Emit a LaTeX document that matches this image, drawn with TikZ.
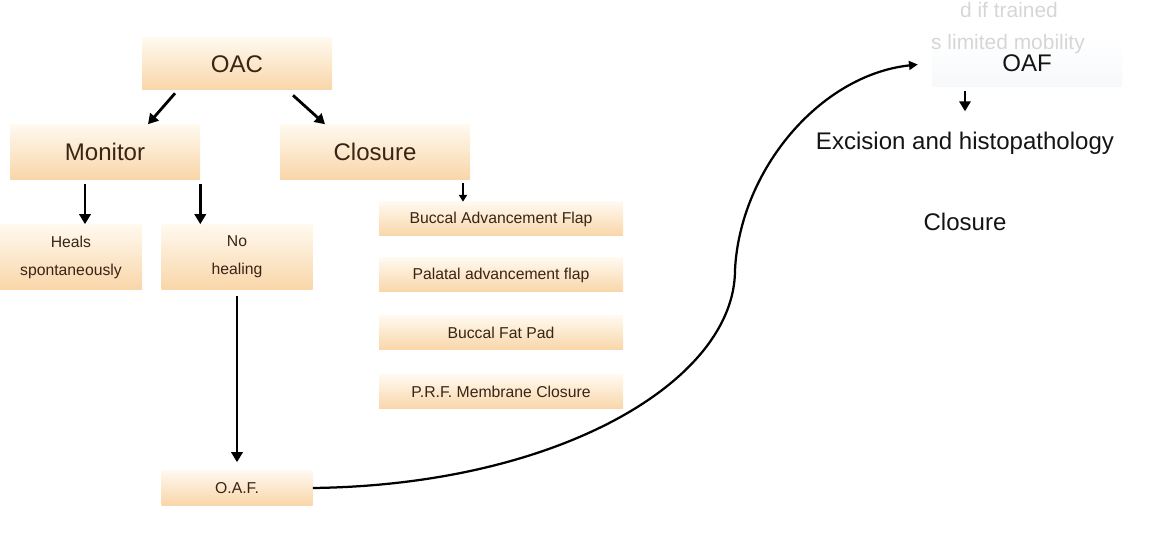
\documentclass[tikz,border=0pt]{standalone}
\usepackage{fontspec}
\setmainfont{Liberation Sans}
\usetikzlibrary{arrows.meta,positioning}
\definecolor{boxtop}{HTML}{FFF9EF}
\definecolor{boxbot}{HTML}{F9D6A9}
\definecolor{boxtext}{HTML}{3A2414}
\definecolor{haze}{HTML}{EEF2F7}

\begin{document}
\begin{tikzpicture}[
        >={Triangle[length=2.5mm, width=2.8mm]},
        every node/.append style={align=center},
        bigbox/.style={rectangle, top color=boxtop, bottom color=boxbot, text=boxtext,
            font=\fontsize{17.1}{20}\selectfont, minimum width=4.75cm, inner sep=0pt},
        smallbox/.style={rectangle, top color=boxtop, bottom color=boxbot, text=boxtext,
            font=\fontsize{11.2}{19.9}\selectfont, inner sep=0pt},
        flapbox/.style={smallbox, minimum width=6.1cm, minimum height=0.85cm},
        plain/.style={text=black!92, font=\fontsize{17.1}{20}\selectfont, inner sep=0pt},
        ghost/.style={text=black!16, font=\fontsize{14.9}{18}\selectfont, inner sep=0pt},
        arr/.style={->, line width=2pt}
    ]
        \useasboundingbox (0,0) rectangle (29.2,-13.55);

        \node[bigbox, minimum height=1.3cm]   (oac)     at (5.925,-1.6) {OAC};
        \node[bigbox, minimum height=1.375cm] (monitor) at (2.625,-3.8) {Monitor};
        \node[bigbox, minimum height=1.375cm] (closure) at (9.375,-3.8) {Closure};

        \node[smallbox, minimum width=3.55cm, minimum height=1.625cm]  (heals)     at (1.775,-6.425) {Heals\\spontaneously};
        \node[smallbox, minimum width=3.775cm, minimum height=1.625cm] (nohealing) at (5.925,-6.425) {No\\healing};
        \node[smallbox, minimum width=3.775cm, minimum height=0.875cm] (oaf)       at (5.925,-12.2) {O.A.F.};

        \node[flapbox] (flap1) at (12.525,-5.475) {Buccal Advancement Flap};
        \node[flapbox] (flap2) at (12.525,-6.875) {Palatal advancement flap};
        \node[flapbox] (flap3) at (12.525,-8.325) {Buccal Fat Pad};
        \node[flapbox] (flap4) at (12.525,-9.8)   {P.R.F. Membrane Closure};

        % right hand side
        \node[plain, minimum width=4.75cm, minimum height=1.2cm, top color=white, bottom color=haze,
            fill opacity=0.5, text opacity=1] (oafr) at (25.675,-1.575) {OAF};
        \node[ghost] (ghost1) at (25.225,-0.25) {d if trained};
        \node[ghost] (ghost2) at (25.2,-1.1)    {s limited mobility};
        \node[plain] (excision) at (24.125,-3.57) {Excision and histopathology};
        \node[plain] (closurer) at (24.125,-5.55) {Closure};

        \draw[arr] ([xshift=-1.55cm, yshift=-0.075cm]oac.south) -- ([xshift=1.075cm]monitor.north);
        \draw[arr] ([xshift=1.4cm, yshift=-0.125cm]oac.south)   -- ([xshift=-1.25cm]closure.north);
        \draw[arr] ([xshift=-0.5cm, yshift=-0.1cm]monitor.south) -- ([xshift=-0.5cm]monitor.south |- heals.north);
        \draw[arr] ([yshift=-0.1cm]monitor.south east) -- (monitor.south east |- nohealing.north);
        \draw[->, line width=1.4pt, >={Triangle[length=1.7mm, width=2mm]}]
            ([xshift=2.2cm, yshift=-0.09cm]closure.south) -- ([xshift=2.2cm]closure.south |- flap1.north);
        \draw[arr, shorten >=0.2cm] ([yshift=-0.15cm]nohealing.south) -- (oaf.north);

        \draw[->, line width=1.6pt, >={Triangle[length=2.2mm, width=2.2mm]}, shorten >=0.35cm]
            (oaf.east) .. controls (14,-12.125) and (18.375,-9.5) .. (18.375,-6.75)
            .. controls (18.5,-4.25) and (20.5,-1.875) .. (oafr.west);
        \draw[arr, shorten >=0.5cm] ([yshift=-0.1cm]excision.north |- oafr.south) -- (excision.north);
    \end{tikzpicture}
\end{document}
